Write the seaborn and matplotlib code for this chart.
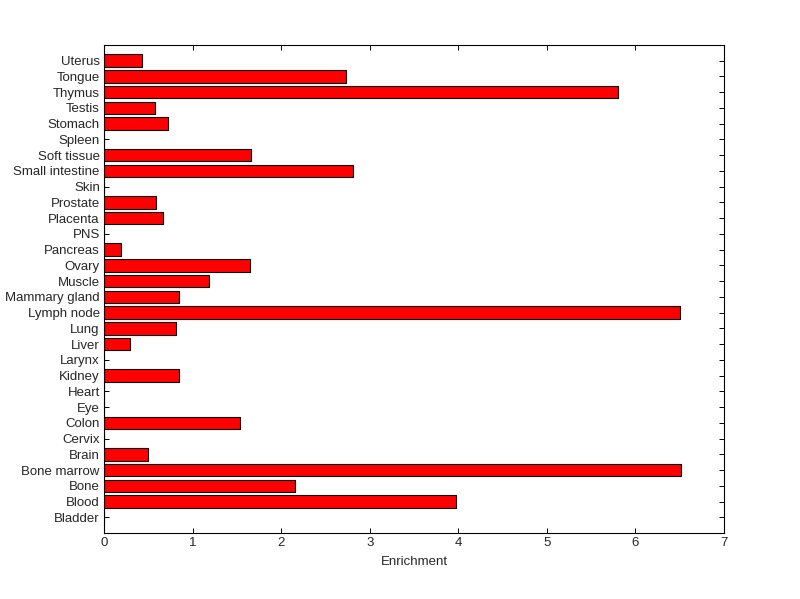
import matplotlib
matplotlib.use("Agg")
import matplotlib.pyplot as plt
import seaborn as sns
import pandas as pd

categories = ["Bladder", "Blood", "Bone", "Bone marrow", "Brain", "Cervix", "Colon",
              "Eye", "Heart", "Kidney", "Larynx", "Liver", "Lung", "Lymph node",
              "Mammary gland", "Muscle", "Ovary", "Pancreas", "PNS", "Placenta",
              "Prostate", "Skin", "Small intestine", "Soft tissue", "Spleen",
              "Stomach", "Testis", "Thymus", "Tongue", "Uterus"]
enrichment = [0.0, 3.97, 2.16, 6.51, 0.50, 0.0, 1.54,
              0.0, 0.0, 0.85, 0.0, 0.29, 0.81, 6.50,
              0.85, 1.19, 1.65, 0.19, 0.0, 0.67,
              0.59, 0.0, 2.81, 1.66, 0.0,
              0.72, 0.58, 5.80, 2.73, 0.43]
xticks = [0, 1, 2, 3, 4, 5, 6, 7]

df = pd.DataFrame({"Tissue": categories, "Enrichment": enrichment})

sns.set_style("white")
plt.rcParams["font.family"] = ["Liberation Sans", "DejaVu Sans"]

fig = plt.figure(figsize=(8, 5.99), dpi=100)
ax = fig.add_axes([0.13, 0.11, 0.775, 0.815])

sns.barplot(data=df, x="Enrichment", y="Tissue", order=categories[::-1],
            orient="h", color="#ff0000", saturation=1, width=0.8,
            edgecolor="black", linewidth=0.8, ax=ax)

ax.set_xlim(0, 7)
ax.set_ylim(30, -1)
ax.set_xticks(xticks)
ax.set_xticklabels([str(t) for t in xticks])
ax.set_xlabel("Enrichment", fontsize=9.5, labelpad=5)
ax.set_ylabel("")
ax.tick_params(axis="both", direction="in", length=3.6, width=0.7,
               top=True, right=True, left=True, bottom=True,
               labelsize=9.5, color="black", pad=3)
for s in ax.spines.values():
    s.set_visible(True)
    s.set_color("black")
    s.set_linewidth(0.8)

fig.savefig("out.png", dpi=100, facecolor="white")
